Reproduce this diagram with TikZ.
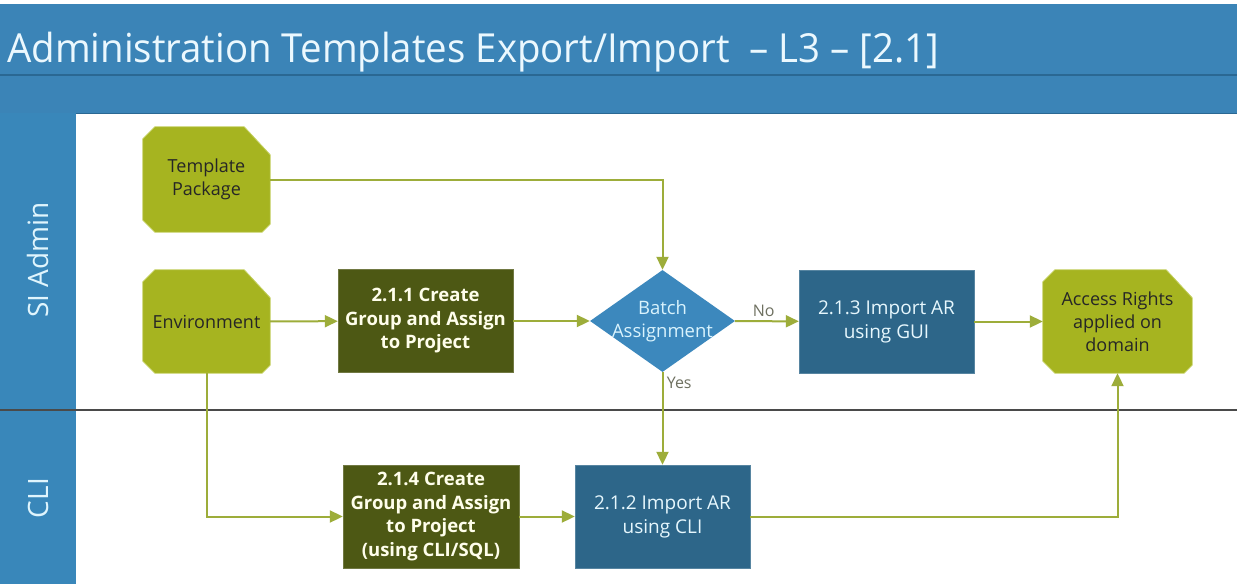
\documentclass[tikz,border=0pt]{standalone}
\usepackage{fontspec}
\setmainfont{Open Sans}
\usetikzlibrary{arrows.meta,shapes.geometric}
\definecolor{band}{HTML}{3B84B7}
\definecolor{bandline}{HTML}{2A6893}
\definecolor{lanecol}{HTML}{3987BA}
\definecolor{laneline}{HTML}{4A4A4A}
\definecolor{greenfill}{HTML}{A6B420}
\definecolor{greenedge}{HTML}{C4D060}
\definecolor{olive}{HTML}{4D5814}
\definecolor{diamondblue}{HTML}{3C88BD}
\definecolor{darkblue}{HTML}{2D6689}
\definecolor{conncolor}{HTML}{9DAD3A}
\definecolor{lbltext}{HTML}{6E7060}
\pgfdeclarelayer{bg}
\pgfsetlayers{bg,main}
\newcommand\chamfbox[1]{%
  \begin{pgfonlayer}{bg}
  \fill[greenfill,draw=greenedge,line width=0.8pt]
    ([xshift=12pt]#1.north west) -- ([xshift=-26pt]#1.north east)
    -- ([yshift=-28pt]#1.north east) -- ([yshift=8pt]#1.south east)
    -- ([xshift=-8pt]#1.south east) -- ([xshift=12pt]#1.south west)
    -- ([yshift=12pt]#1.south west) -- ([yshift=-12pt]#1.north west) -- cycle;
  \end{pgfonlayer}}
\tikzset{
  greennode/.style={rectangle,inner sep=0pt,align=center,text=black!85,
    font=\fontsize{18}{23}\selectfont},
  olivebox/.style={rectangle,fill=olive,draw=olive!80!white,inner sep=0pt,
    minimum width=175pt,minimum height=103pt,align=center,text=white!92!yellow,
    font=\fontsize{18.5}{23.5}\selectfont\bfseries},
  bluebox/.style={rectangle,fill=darkblue,draw=darkblue!80!white,inner sep=0pt,
    minimum width=175pt,minimum height=103pt,align=center,text=white!90!cyan,
    font=\fontsize{19}{24}\selectfont},
  decision/.style={diamond,fill=diamondblue,inner sep=0pt,
    minimum width=145pt,minimum height=102pt},
  conn/.style={draw=conncolor,line width=2pt,
    -{Triangle[length=13pt,width=12pt]}},
  lbl/.style={text=lbltext,font=\fontsize{16}{16}\selectfont},
  lanelabel/.style={rotate=90,text=white!88!cyan,font=\fontsize{28}{28}\selectfont}
}
\begin{document}
\begin{tikzpicture}[x=1pt,y=-1pt]
\useasboundingbox (0,0) rectangle (1237,584);
\begin{pgfonlayer}{bg}
\fill[white] (0,0) rectangle (1237,584);
\end{pgfonlayer}
% header bands
\fill[band] (0,4) rectangle (1237,113);
\draw[bandline,line width=2pt] (0,75) -- (1237,75);
\draw[bandline,line width=1pt] (0,113) -- (1237,113);
\node[anchor=base west,inner sep=0pt,text=white!92!cyan,
  font=\fontsize{40}{40}\selectfont] (title) at (7,62)
  {\resizebox{932pt}{\height}{Administration Templates Export/Import \ – L3 – [2.1]}};
% lane label column
\fill[lanecol] (0,113) rectangle (76,584);
\draw[laneline,line width=1.5pt] (0,410) -- (1237,410);
\node[lanelabel] (lane1) at (38,260) {SI Admin};
\node[lanelabel] (lane2) at (38,498) {CLI};
% nodes
\node[greennode,minimum width=127pt,minimum height=105pt] (tp) at (206.5,179.5) {Template\\Package};
\node[greennode,minimum width=127pt,minimum height=103pt] (env) at (206.5,321.5) {Environment};
\node[greennode,minimum width=149pt,minimum height=103pt] (ar) at (1117.5,321.5) {Access Rights\\applied on\\domain};
\chamfbox{tp}
\chamfbox{env}
\chamfbox{ar}
\node[olivebox] (c211) at (425.5,321) {2.1.1 Create\\Group and Assign\\to Project};
\node[decision] (batch) at (662.5,321) {};
\node[align=center,text=white!85!cyan,font=\fontsize{18.5}{23}\selectfont,inner sep=0pt] (batchtxt) at (662.5,321) {Batch\\Assignment};
\node[bluebox] (i213) at (886.5,321.5) {2.1.3 Import AR\\using GUI};
\node[olivebox,minimum width=176pt] (c214) at (431,516.5) {2.1.4 Create\\Group and Assign\\to Project\\(using CLI/SQL)};
\node[bluebox] (i212) at (662.5,516.5) {2.1.2 Import AR\\using CLI};
% connectors
\draw[conn] (env) -- (c211);
\draw[conn] (c211) -- (batch);
\draw[conn] (batch) -- node[lbl,above,pos=0.45] (no) {No} (i213);
\draw[conn] (i213) -- (ar);
\draw[conn] (tp.east) -| (batch.north);
\draw[conn] (batch.south) -- node[lbl,right,pos=0.12] (yes) {Yes} (i212.north);
\draw[conn] (env.south) |- (c214.west);
\draw[conn] (c214) -- (i212);
\draw[conn] (i212.east) -| (ar.south);
\end{tikzpicture}
\end{document}
